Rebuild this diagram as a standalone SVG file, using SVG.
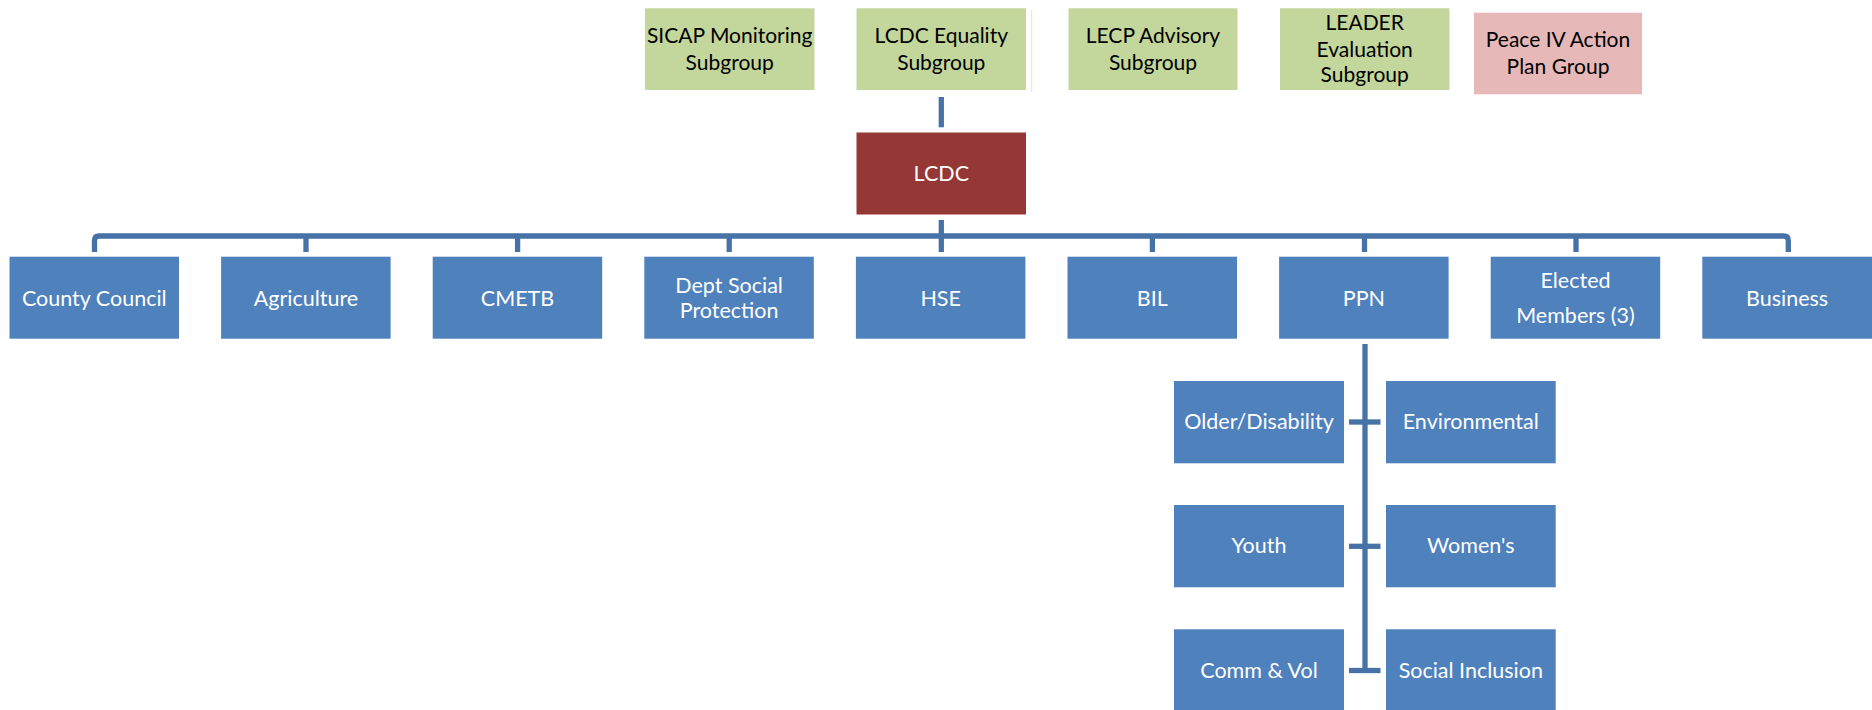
<svg xmlns="http://www.w3.org/2000/svg" width="1872" height="710" viewBox="0 0 1872 710">
<style>
.sub{fill:#C3D69B}
.peace{fill:#E6B9B8}
.blue{fill:#4F81BD}
.red{fill:#953735}
text{font-family:Lato,"Liberation Sans",sans-serif;text-anchor:middle}
.dk{fill:#000;font-size:21px}
.wt{fill:#fff;font-size:21.5px}
.conn{stroke:#4672A8;stroke-width:5.3;fill:none}
</style>
<rect width="1872" height="710" fill="#fff"/>
<g id="connectors">
<line class="conn" x1="941.3" y1="97" x2="941.3" y2="127.3"/>
<line class="conn" x1="941.3" y1="220" x2="941.3" y2="252"/>
<path class="conn" d="M94.5,252 V240.5 Q94.5,236 99,236 H1783.8 Q1788.3,236 1788.3,240.5 V252"/>
<line class="conn" x1="306" y1="236" x2="306" y2="252"/>
<line class="conn" x1="517.6" y1="236" x2="517.6" y2="252"/>
<line class="conn" x1="729.2" y1="236" x2="729.2" y2="252"/>
<line class="conn" x1="1152.4" y1="236" x2="1152.4" y2="252"/>
<line class="conn" x1="1364.5" y1="236" x2="1364.5" y2="252"/>
<line class="conn" x1="1576" y1="236" x2="1576" y2="252"/>
<line class="conn" x1="1365" y1="344" x2="1365" y2="673"/>
<line class="conn" x1="1349" y1="422" x2="1380.5" y2="422"/>
<line class="conn" x1="1349" y1="546.3" x2="1380.5" y2="546.3"/>
<line class="conn" x1="1349" y1="670.5" x2="1380.5" y2="670.5"/>
<line x1="1031.5" y1="10" x2="1031.5" y2="92" stroke="#E8ECDA" stroke-width="1.5"/>
</g>
<g id="sicap"><rect class="sub" x="645" y="8.3" width="169.5" height="81.7"/><text class="dk" x="729.7" y="43.3">SICAP Monitoring</text><text class="dk" x="729.7" y="70">Subgroup</text></g>
<g id="lcdc-equality"><rect class="sub" x="856.5" y="8.3" width="169.5" height="81.7"/><text class="dk" x="941.3" y="43.3">LCDC Equality</text><text class="dk" x="941.3" y="70">Subgroup</text></g>
<g id="lecp"><rect class="sub" x="1068.5" y="8.3" width="169" height="81.7"/><text class="dk" x="1153" y="43.3">LECP Advisory</text><text class="dk" x="1153" y="70">Subgroup</text></g>
<g id="leader"><rect class="sub" x="1280" y="8.3" width="169.5" height="81.7"/><text class="dk" x="1364.7" y="30">LEADER</text><text class="dk" x="1364.7" y="56.7">Evaluation</text><text class="dk" x="1364.7" y="82">Subgroup</text></g>
<g id="peace"><rect class="peace" x="1474" y="12.7" width="168" height="81.6"/><text class="dk" x="1558" y="46.7">Peace IV Action</text><text class="dk" x="1558" y="74">Plan Group</text></g>
<g id="lcdc"><rect class="red" x="856.5" y="132.5" width="169.5" height="82"/><text class="wt" x="941.3" y="181">LCDC</text></g>
<g id="county-council"><rect class="blue" x="9.5" y="256.7" width="169.5" height="82"/><text class="wt" x="94.3" y="305.7">County Council</text></g>
<g id="agriculture"><rect class="blue" x="221.1" y="256.7" width="169.5" height="82"/><text class="wt" x="305.9" y="305.7">Agriculture</text></g>
<g id="cmetb"><rect class="blue" x="432.7" y="256.7" width="169.5" height="82"/><text class="wt" x="517.5" y="305.7">CMETB</text></g>
<g id="dept-social"><rect class="blue" x="644.3" y="256.7" width="169.5" height="82"/><text class="wt" x="729.1" y="292.7">Dept Social</text><text class="wt" x="729.1" y="318.3">Protection</text></g>
<g id="hse"><rect class="blue" x="855.9" y="256.7" width="169.5" height="82"/><text class="wt" x="940.7" y="305.7">HSE</text></g>
<g id="bil"><rect class="blue" x="1067.5" y="256.7" width="169.5" height="82"/><text class="wt" x="1152.3" y="305.7">BIL</text></g>
<g id="ppn"><rect class="blue" x="1279.1" y="256.7" width="169.5" height="82"/><text class="wt" x="1363.9" y="305.7">PPN</text></g>
<g id="elected"><rect class="blue" x="1490.7" y="256.7" width="169.5" height="82"/><text class="wt" x="1575.5" y="287.5">Elected</text><text class="wt" x="1575.5" y="323">Members (3)</text></g>
<g id="business"><rect class="blue" x="1702.3" y="256.7" width="170" height="82"/><text class="wt" x="1787.1" y="305.7">Business</text></g>
<g id="older"><rect class="blue" x="1174" y="381" width="170" height="82.3"/><text class="wt" x="1259" y="429.3">Older/Disability</text></g>
<g id="environmental"><rect class="blue" x="1386" y="381" width="169.7" height="82.3"/><text class="wt" x="1470.8" y="429.3">Environmental</text></g>
<g id="youth"><rect class="blue" x="1174" y="505" width="170" height="82.3"/><text class="wt" x="1259" y="553">Youth</text></g>
<g id="womens"><rect class="blue" x="1386" y="505" width="169.7" height="82.3"/><text class="wt" x="1470.8" y="553">Women's</text></g>
<g id="comm-vol"><rect class="blue" x="1174" y="629.3" width="170" height="82"/><text class="wt" x="1259" y="677.5">Comm &amp; Vol</text></g>
<g id="social-inclusion"><rect class="blue" x="1386" y="629.3" width="169.7" height="82"/><text class="wt" x="1470.8" y="677.5">Social Inclusion</text></g>
</svg>
